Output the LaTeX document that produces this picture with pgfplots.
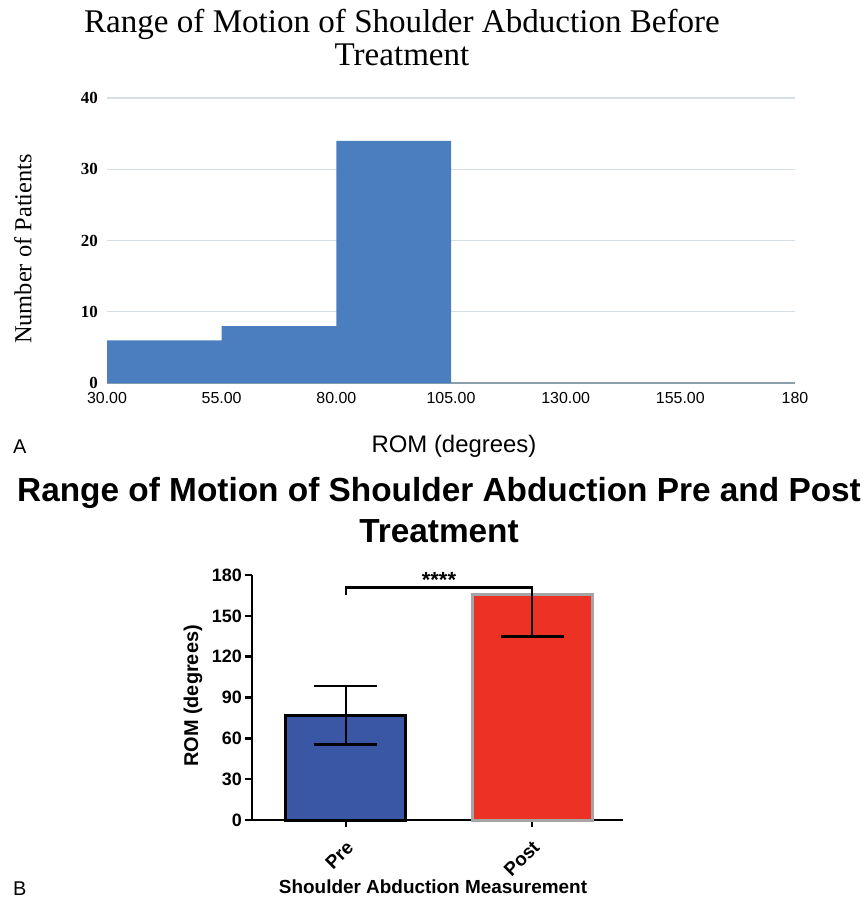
\documentclass[border=0pt]{standalone}
\usepackage{fontspec}
\setmainfont{Liberation Serif}
\setsansfont{Liberation Sans}
\usepackage{pgfplots}
\pgfplotsset{compat=1.18}
\definecolor{histblue}{RGB}{74,126,191}
\definecolor{gridc}{RGB}{214,224,228}
\definecolor{axisc}{RGB}{140,160,172}
\definecolor{preblue}{RGB}{58,87,165}
\definecolor{postred}{RGB}{236,50,36}
\definecolor{postgray}{RGB}{165,165,165}
\begin{document}
\begin{tikzpicture}
\path[use as bounding box] (0,0) rectangle (867bp,-904bp);

% ---------------- Panel A ----------------
\begin{axis}[
  at={(107bp,-383bp)}, anchor=south west,
  scale only axis, width=688bp, height=285bp,
  xmin=30, xmax=180, ymin=0, ymax=40,
  axis x line*=bottom, axis y line*=left,
  y axis line style={draw=none},
  x axis line style={draw=axisc, line width=1.6bp, -},
  ymajorgrids, grid style={draw=gridc, line width=1.2bp},
  major tick length=0pt,
  xtick={30,55,80,105,130,155,180},
  xticklabels={30.00,55.00,80.00,105.00,130.00,155.00,180},
  ytick={0,10,20,30,40},
  yticklabels={0,10,20,30,40},
  xticklabel style={font=\sffamily\fontsize{16}{16}\selectfont, anchor=north, inner sep=0pt, yshift=-9bp},
  yticklabel style={font=\rmfamily\bfseries\fontsize{17}{17}\selectfont, anchor=east, inner sep=0pt, xshift=-9bp},
  clip=false,
]
\addplot[ybar interval=0.98, fill=histblue, draw=none] coordinates {(30,6) (55,8) (80,34) (105,34)};
\end{axis}

\node[anchor=base, font=\rmfamily\fontsize{33.2}{33.2}\selectfont] at (402bp,-32bp) {Range of Motion of Shoulder Abduction Before};
\node[anchor=base, font=\rmfamily\fontsize{33.2}{33.2}\selectfont] at (402bp,-65bp) {Treatment};
\node[rotate=90, font=\rmfamily\fontsize{24.5}{24.5}\selectfont] at (23bp,-249bp) {Number of Patients};
\node[anchor=base, font=\sffamily\fontsize{24}{24}\selectfont] at (454bp,-452bp) {ROM (degrees)};
\node[anchor=base west, inner sep=0pt, font=\sffamily\fontsize{20}{20}\selectfont] at (13bp,-453bp) {A};

% ---------------- Panel B ----------------
\begin{axis}[
  at={(252bp,-820bp)}, anchor=south west,
  scale only axis, width=371bp, height=245bp,
  xmin=-0.505, xmax=1.489, ymin=0, ymax=180,
  axis x line*=bottom, axis y line*=left,
  axis line style={black, line width=2.6bp, -},
  tick align=outside, major tick length=7bp,
  tick style={black, line width=2.6bp},
  xtick={0,1}, xticklabels={Pre,Post},
  ytick={0,30,60,90,120,150,180},
  /pgf/number format/assume math mode=true,
  xticklabel style={font=\sffamily\bfseries\fontsize{19}{19}\selectfont, rotate=45, anchor=east, inner sep=0pt, xshift=-9bp, yshift=-15bp},
  yticklabel style={font=\sffamily\bfseries\fontsize{18}{18}\selectfont, anchor=east, inner sep=0pt, xshift=-3bp},
  clip=false,
]
\addplot[ybar, bar shift=0pt, bar width=120bp, fill=preblue, draw=black, line width=3bp,
  error bars/.cd, y dir=both, y explicit,
  error bar style={black, line width=2.6bp},
  error mark options={black, line width=2.6bp, mark size=31.5bp, rotate=90}]
  coordinates {(0,77) +- (0,21.5)};
\addplot[ybar, bar shift=0pt, bar width=120bp, fill=postred, draw=postgray, line width=3bp,
  error bars/.cd, y dir=minus, y explicit,
  error bar style={black, line width=2.6bp},
  error mark options={black, line width=2.6bp, mark size=31.5bp, rotate=90}]
  coordinates {(1,166) +- (0,31)};
\addplot[black, line width=2.6bp, mark=none] coordinates {(0,165) (0,171) (1,171) (1,166)};
\node[font=\sffamily\bfseries\fontsize{22}{22}\selectfont] at (axis cs:0.5,176) {****};
\end{axis}

\node[anchor=base, font=\sffamily\bfseries\fontsize{33.5}{33.5}\selectfont] at (439bp,-501bp) {Range of Motion of Shoulder Abduction Pre and Post};
\node[anchor=base, font=\sffamily\bfseries\fontsize{33.5}{33.5}\selectfont] at (439bp,-542bp) {Treatment};
\node[rotate=90, font=\sffamily\bfseries\fontsize{20}{20}\selectfont] at (193bp,-696bp) {ROM (degrees)};
\node[anchor=base, font=\sffamily\bfseries\fontsize{19}{19}\selectfont] at (433bp,-893bp) {Shoulder Abduction Measurement};
\node[anchor=base west, inner sep=0pt, font=\sffamily\fontsize{20}{20}\selectfont] at (13bp,-895bp) {B};
\end{tikzpicture}
\end{document}
